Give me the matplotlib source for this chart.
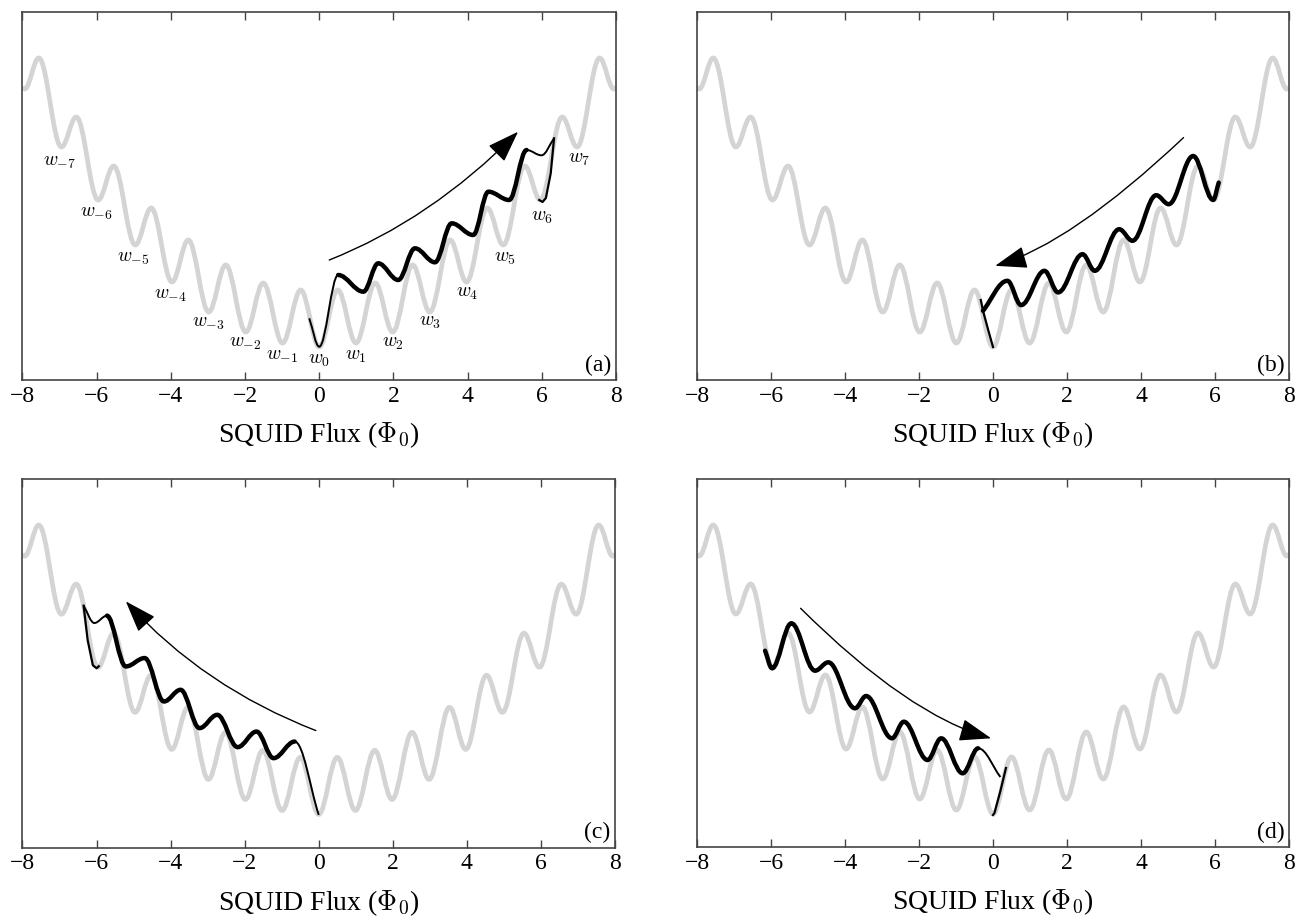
import matplotlib
matplotlib.use("Agg")
import matplotlib.pyplot as plt
from matplotlib.path import Path
from matplotlib.patches import PathPatch, FancyArrowPatch

plt.rcParams['font.family'] = ['Liberation Serif', 'DejaVu Serif']
plt.rcParams['mathtext.fontset'] = 'cm'

# gray potential: turning points (U = height above the x axis, px)
pot_x = [-8, -7.94, -7.56, -6.95, -6.55, -5.96, -5.54, -4.96, -4.53, -3.97, -3.53, -2.98,
         -2.52, -1.98, -1.51, -0.99, -0.5, 0, 0.5, 0.99, 1.51, 1.98, 2.52, 2.98, 3.53,
         3.97, 4.53, 4.96, 5.54, 5.96, 6.55, 6.95, 7.56, 7.94, 8]
pot_u = [293, 291, 322, 233, 263, 180, 214, 135, 172, 98, 140, 68, 115, 48, 97, 37, 90, 33,
         90, 37, 97, 48, 115, 68, 140, 98, 172, 135, 214, 180, 263, 233, 322, 291, 293]

# well labels w_n
w_n = list(range(-7, 8))
w_u = [218, 167, 122, 85, 57, 37, 24, 20, 24, 37, 58, 87, 122, 163, 221]

# trajectories (black), thick part given by index range, plus the jump lines
traj_a_x = [-0.27, 0.0, 0.51, 1.19, 1.59, 2.13, 2.58, 3.12, 3.57, 4.15, 4.56, 5.12, 5.59, 5.99, 6.33]
traj_a_u = [61.7, 33.3, 105, 88.3, 116.7, 100, 131.7, 117.7, 156.7, 145, 188.3, 180, 230, 224.7, 241.7]
thick_a = (2, 12)
jump_a_x = [6.33, 6.24, 6.11, 6.02, 5.93]
jump_a_u = [241.7, 206.7, 182, 178, 180]
arrow_a = [(0.27, 120), (3.0, 160), (5.36, 248.3)]

traj_b_x = [6.10, 5.95, 5.41, 4.75, 4.41, 3.77, 3.41, 2.75, 2.42, 1.76, 1.39, 0.76, 0.39, -0.27]
traj_b_u = [197.4, 180.1, 224, 175.8, 184.8, 139.2, 150.8, 109.2, 125.8, 87.6, 109.2, 74.9, 99.2, 69.2]
thick_b = (0, 13)
jump_b_x = [-0.33, -0.27, -0.13, 0.0]
jump_b_u = [80, 69.2, 50, 33]
arrow_b = [(5.15, 242.4), (2.1, 136), (0.06, 114.2)]

traj_c_x = [0.0, -0.65, -1.22, -1.68, -2.19, -2.74, -3.22, -3.73, -4.18, -4.70, -5.21, -5.72, -6.06, -6.35]
traj_c_u = [32.5, 105.8, 89.2, 115.8, 100.2, 132.5, 119.2, 157.5, 145.8, 189.2, 180.8, 231.5, 224.2, 241.5]
thick_c = (1, 11)
jump_c_x = [-6.35, -6.24, -6.10, -6.00, -5.94]
jump_c_u = [241.5, 207, 182, 179, 181]
arrow_c = [(-0.08, 116.8), (-3.1, 160), (-5.21, 245.8)]

traj_d_x = [-6.16, -5.97, -5.45, -4.81, -4.45, -3.73, -3.43, -2.73, -2.41, -1.77, -1.40, -0.82, -0.40, 0.2]
traj_d_u = [196.3, 178.7, 223.7, 176.3, 184.7, 138.7, 151, 108.7, 125.3, 87, 108.7, 73.7, 98.7, 70]
thick_d = (0, 12)
jump_d_x = [0.35, 0.2, 0.04, 0.0]
jump_d_u = [79, 56, 34, 32]
arrow_d = [(-5.2, 238.7), (-2.3, 132), (-0.05, 108.7)]


def bez(xs, ys, i0=0, i1=None):
    # cubic pieces, flat at the turning points, free at the two ends
    n = len(xs)
    if i1 is None:
        i1 = n - 1
    k = 0.364
    verts = [(xs[i0], ys[i0])]
    codes = [Path.MOVETO]
    for i in range(i0, i1):
        x0, y0, x1, y1 = xs[i], ys[i], xs[i + 1], ys[i + 1]
        d = x1 - x0
        if i == 0:
            c0 = (x0 + k * d, y0 + k * (y1 - y0))
        else:
            c0 = (x0 + k * d, y0)
        if i + 1 == n - 1:
            c1 = (x1 - k * d, y1 - k * (y1 - y0))
        else:
            c1 = (x1 - k * d, y1)
        verts += [c0, c1, (x1, y1)]
        codes += [Path.CURVE4] * 3
    return Path(verts, codes)


fig = plt.figure(figsize=(13.02, 9.24), dpi=100)


def panel(rect, tag, tx, tu, thick, jx, ju, arr, labels=False):
    ax = fig.add_axes(rect)
    ax.add_patch(PathPatch(bez(pot_x, pot_u), fill=False, ec='#d4d4d4', lw=3.4, zorder=1))
    ax.add_patch(PathPatch(bez(tx, tu), fill=False, ec='k', lw=1.4, zorder=2))
    ax.add_patch(PathPatch(bez(tx, tu, *thick), fill=False, ec='k', lw=3.2,
                           capstyle='round', joinstyle='round', zorder=3))
    ax.plot(jx, ju, color='k', lw=1.6, zorder=2)
    a = FancyArrowPatch(path=Path(arr, [Path.MOVETO, Path.CURVE3, Path.CURVE3]),
                        arrowstyle='-|>,head_length=1.05,head_width=0.37',
                        mutation_scale=19, lw=1.0, color='k', zorder=4)
    ax.add_patch(a)
    if labels:
        for n, u in zip(w_n, w_u):
            ax.text(n, u, r'$w_{%d}$' % n, ha='center', va='center', fontsize=14)
    ax.set_xlim(-8, 8)
    ax.set_ylim(0, 368)
    ax.set_xticks(range(-8, 9, 2))
    ax.set_yticks([])
    ax.tick_params(axis='x', direction='in', top=True, length=6, width=1,
                   color='#444444', labelsize=17, pad=4)
    for s in ax.spines.values():
        s.set_color('#444444')
        s.set_linewidth(1.2)
    ax.set_xlabel(r'SQUID Flux ($\Phi_0$)', fontsize=20, labelpad=10)
    ax.text(0.992, 0.012, '(%s)' % tag, transform=ax.transAxes, ha='right', va='bottom',
            fontsize=17)
    return ax


panel([0.01728, 0.58874, 0.45584, 0.39827], 'a', traj_a_x, traj_a_u, thick_a,
      jump_a_x, jump_a_u, arrow_a, labels=True)
panel([0.53533, 0.58874, 0.45469, 0.39827], 'b', traj_b_x, traj_b_u, thick_b,
      jump_b_x, jump_b_u, arrow_b)
panel([0.01728, 0.08279, 0.45507, 0.39881], 'c', traj_c_x, traj_c_u, thick_c,
      jump_c_x, jump_c_u, arrow_c)
panel([0.53533, 0.08333, 0.45469, 0.39827], 'd', traj_d_x, traj_d_u, thick_d,
      jump_d_x, jump_d_u, arrow_d)

fig.savefig('out.png', dpi=100)
